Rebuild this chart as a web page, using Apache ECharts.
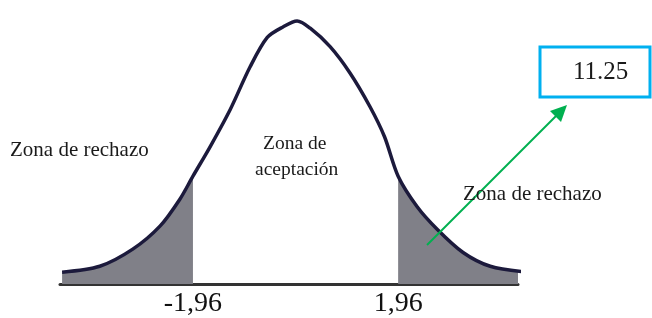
<!DOCTYPE html>
<html>
    <head>
        <meta charset="utf-8">
        <title></title>
        <script src="https://cdn.jsdelivr.net/npm/echarts@6/dist/echarts.min.js"></script>
        <style>
            body { margin: 0; background: #fff; }
        </style>
    </head>
    <body>
    <div id="main" style="width: 652px;height:318px;"></div>
    <script type="text/javascript">
        // puntos (z, altura)
        var zVals = [-4.46, -3.74, -3.11, -2.59, -2.21, -1.96, -1.63, -1.25, -0.87, -0.54, -0.24, 0.03,
                     0.28, 0.66, 1.04, 1.42, 1.70, 1.96, 2.32, 2.71, 3.20, 3.72, 4.42]
        var heights = [0.018, 0.027, 0.053, 0.088, 0.129, 0.164, 0.209, 0.265, 0.330, 0.375, 0.391, 0.400,
                       0.389, 0.361, 0.321, 0.270, 0.224, 0.164, 0.118, 0.083, 0.048, 0.027, 0.018]
        var critical = [-1.96, 1.96]
        var resultValue = '11.25'

        var serif = 'Liberation Serif'
        var myChart = echarts.init(document.getElementById('main'))

        var pairs = function(test){
            var out = []
            for (var i = 0; i < zVals.length; i++) {
                if (test(zVals[i])) out.push([zVals[i], heights[i]])
            }
            return out
        }
        var curve = pairs(function(z){ return true })
        var leftTail = pairs(function(z){ return z <= critical[0] })
        var rightTail = pairs(function(z){ return z >= critical[1] })

        var tailSeries = function(data){
            return {
                type: 'line',
                data: data,
                smooth: 0.3,
                symbol: 'none',
                clip: false,
                lineStyle: { width: 0 },
                areaStyle: { color: '#808088', opacity: 1 },
                z: 1
            }
        }
        // textos como titulos
        var label = function(text, left, top, size){
            return {
                text: text, left: left, top: top, padding: 0, z: 20,
                textStyle: { fontFamily: serif, fontSize: size, fontWeight: 'normal', color: '#1a1a1a' }
            }
        }

        var option = {
            animation: false,
            title: [
                label('Zona de rechazo', 10, 140, 21),
                label('Zona de rechazo', 463, 184, 21),
                label('Zona de', 263, 134, 19.5),
                label('aceptación', 255, 160, 19.5),
                label(resultValue, 573, 60, 25)
            ],
            grid: { left: 60, right: 134, top: 21, bottom: 33 },
            xAxis: {
                type: 'value',
                min: -4.5,
                max: 4.25,
                splitLine: { show: false },
                axisTick: { show: false },
                axisLine: { lineStyle: { color: '#333', width: 3 } },
                axisLabel: {
                    customValues: critical,
                    margin: 6,
                    fontFamily: serif,
                    fontSize: 28,
                    color: '#111',
                    formatter: function(v){ return String(v).replace('.', ',') }
                }
            },
            yAxis: {
                type: 'value',
                min: 0,
                max: 0.4,
                show: false
            },
            series: [
                tailSeries(leftTail),
                tailSeries(rightTail),
                {
                    type: 'line',
                    data: curve,
                    smooth: 0.3,
                    symbol: 'none',
                    clip: false,
                    lineStyle: { color: '#1c1a3c', width: 3.5 },
                    z: 3
                }
            ],
            graphic: [
                { type: 'rect', shape: { x: 540, y: 47, width: 110, height: 50 }, style: { fill: '#fff', stroke: '#00b0f0', lineWidth: 3 }, z: -1 },
                { type: 'line', shape: { x1: 427, y1: 245, x2: 559, y2: 113 }, style: { stroke: '#00b050', lineWidth: 2 }, z: 10 },
                { type: 'polygon', shape: { points: [[567, 105], [561, 122], [550, 111]] }, style: { fill: '#00b050' }, z: 10 }
            ]
        }
        myChart.setOption(option)
    </script>
    </body>
</html>
